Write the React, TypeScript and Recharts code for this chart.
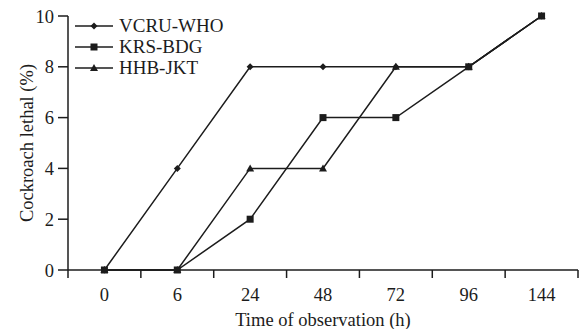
import React from "react";
import { LineChart, Line, XAxis, YAxis } from "recharts";

const times = ["0", "6", "24", "48", "72", "96", "144"];
const vcruWho = [0, 4, 8, 8, 8, 8, 10];
const krsBdg = [0, 0, 2, 6, 6, 8, 10];
const hhbJkt = [0, 0, 4, 4, 8, 8, 10];
const yTicks = [0, 2, 4, 6, 8, 10];

const data = times.map((t, i) => ({
  i,
  t,
  vcru: vcruWho[i],
  krs: krsBdg[i],
  hhb: hhbJkt[i],
}));

const boundaries = times.map((_, i) => i - 0.5).concat(times.length - 0.5);
const centers = times.map((_, i) => i);

const INK = "#1c1c1c";
const FONT = '"Liberation Serif", "Times New Roman", serif';

type Shape = "diamond" | "square" | "triangle";

function Marker({ cx, cy, shape }: { cx: number; cy: number; shape: Shape }) {
  if (cx == null || cy == null) return null;
  if (shape === "square") {
    return <rect x={cx - 3.5} y={cy - 3.5} width={7} height={7} fill={INK} />;
  }
  if (shape === "triangle") {
    return (
      <polygon
        points={`${cx},${cy - 4} ${cx + 4},${cy + 3} ${cx - 4},${cy + 3}`}
        fill={INK}
      />
    );
  }
  return (
    <polygon
      points={`${cx},${cy - 3.5} ${cx + 3.5},${cy} ${cx},${cy + 3.5} ${cx - 3.5},${cy}`}
      fill={INK}
    />
  );
}

const series = [
  { key: "vcru", name: "VCRU-WHO", shape: "diamond" as Shape },
  { key: "hhb", name: "HHB-JKT", shape: "triangle" as Shape },
  { key: "krs", name: "KRS-BDG", shape: "square" as Shape },
];
const legendOrder = ["vcru", "krs", "hhb"];

function LegendBox() {
  return (
    <div
      style={{
        position: "absolute",
        left: 75,
        top: 15,
        fontFamily: FONT,
        fontSize: 19,
        color: INK,
      }}
    >
      {legendOrder.map((k) => {
        const s = series.find((x) => x.key === k)!;
        return (
          <div key={k} style={{ display: "flex", alignItems: "center", height: 21 }}>
            <svg width={38} height={12} style={{ marginRight: 6 }}>
              <line x1={0} y1={6} x2={38} y2={6} stroke={INK} strokeWidth={1.5} />
              <Marker cx={19} cy={6} shape={s.shape} />
            </svg>
            <span style={{ lineHeight: "21px" }}>{s.name}</span>
          </div>
        );
      })}
    </div>
  );
}

function YTitle(props: any) {
  const vb = props.viewBox || { x: 0, y: 0, height: 0 };
  const cx = vb.x + 27;
  const cy = vb.y + vb.height / 2;
  return (
    <text
      x={cx}
      y={cy}
      transform={`rotate(-90 ${cx} ${cy})`}
      textAnchor="middle"
      dominantBaseline="central"
      fontFamily={FONT}
      fontSize={18.5}
      fill={INK}
    >
      Cockroach lethal (%)
    </text>
  );
}

export default function App() {
  return (
    <div style={{ position: "absolute", left: 0, top: 0, width: 579, height: 329, background: "#fff" }}>
      <LineChart
        width={579}
        height={329}
        data={data}
        margin={{ top: 16, right: 1, bottom: 0, left: 0 }}
      >
        <XAxis
          xAxisId="grid"
          dataKey="i"
          type="number"
          domain={[-0.5, times.length - 0.5]}
          ticks={boundaries}
          tickFormatter={() => ""}
          tickSize={8}
          height={8}
          stroke={INK}
          strokeWidth={1.5}
          tickLine={{ stroke: INK, strokeWidth: 1.5 }}
        />
        <XAxis
          xAxisId="lab"
          dataKey="i"
          type="number"
          domain={[-0.5, times.length - 0.5]}
          ticks={centers}
          tickFormatter={(v: number) => times[v]}
          axisLine={false}
          tickLine={false}
          tickSize={0}
          tickMargin={10}
          height={51}
          tick={{ fontFamily: FONT, fontSize: 18.5, fill: INK }}
          label={{
            value: "Time of observation (h)",
            position: "insideBottom",
            offset: 3,
            fontFamily: FONT,
            fontSize: 18.5,
            fill: INK,
          }}
        />
        <YAxis
          domain={[0, 10]}
          ticks={yTicks}
          width={68}
          tickSize={10}
          tickMargin={4}
          stroke={INK}
          strokeWidth={1.5}
          tickLine={{ stroke: INK, strokeWidth: 1.5 }}
          tick={{ fontFamily: FONT, fontSize: 18.5, fill: INK }}
          label={<YTitle />}
        />
        {series.map((s) => (
          <Line
            key={s.key}
            xAxisId="grid"
            dataKey={s.key}
            name={s.name}
            stroke={INK}
            strokeWidth={1.5}
            isAnimationActive={false}
            dot={(p: any) => <Marker key={`${s.key}-${p.index}`} cx={p.cx} cy={p.cy} shape={s.shape} />}
            activeDot={false}
          />
        ))}
      </LineChart>
      <LegendBox />
    </div>
  );
}
